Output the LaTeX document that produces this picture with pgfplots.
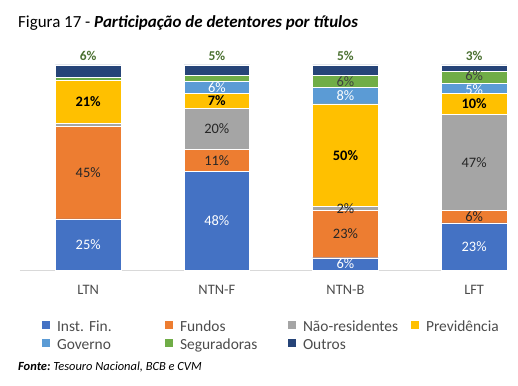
\documentclass[border=0pt]{standalone}
\usepackage{pgfplots}
\pgfplotsset{compat=1.18}
\usetikzlibrary{calc}
\usepackage{fontspec}
\setmainfont{Carlito}
\frenchspacing
\definecolor{cInst}{HTML}{4472C4}
\definecolor{cFund}{HTML}{ED7D31}
\definecolor{cNaoR}{HTML}{A5A5A5}
\definecolor{cPrev}{HTML}{FFC000}
\definecolor{cGov}{HTML}{5B9BD5}
\definecolor{cSeg}{HTML}{70AD47}
\definecolor{cOut}{HTML}{264478}
\definecolor{cTop}{HTML}{4A7030}
\definecolor{cTxt}{HTML}{262626}
\definecolor{cGray}{HTML}{404040}
\definecolor{cAx}{HTML}{D9D9D9}
\pgfplotsset{
  base/.style={scale only axis, width=485bp, height=205bp,
    xmin=-0.53, xmax=3.24, ymin=0, ymax=100, clip=false},
  lbl/.style={only marks, mark=none, nodes near coords, point meta=explicit symbolic,
    every node near coord/.append style={anchor=center, inner sep=0pt, font=\fontsize{14.5}{16}\selectfont}},
}
\begin{document}
\begin{tikzpicture}
\begin{axis}[base,
  ybar stacked, bar width=0.51,
  axis y line=none, axis x line*=bottom,
  x axis line style={draw=cAx, line width=0.8bp, -},
  xtick={0,1,2,3}, xticklabels={LTN,NTN-F,NTN-B,LFT},
  xtick style={draw=none}, major tick length=0pt,
  xticklabel style={anchor=base, yshift=-24bp, inner sep=0pt, font=\fontsize{14.5}{16}\selectfont, text=black!70},
  legend columns=4,
  legend image code/.code={\path[#1, draw=none] (0bp,-1bp) rectangle (8bp,7bp);},
  legend style={at={(0.045,-0.25)}, anchor=north west, draw=none, fill=none, inner sep=0pt,
    font=\fontsize{15.5}{17}\selectfont, text=black!70, row sep=4bp,
    nodes={inner sep=0pt, text width=108bp, align=left, text height=10bp, text depth=3bp},
    /tikz/every odd column/.append style={column sep=7bp}},
]
\coordinate (O) at (rel axis cs:0,0);
\addplot[fill=cInst, draw=white, line width=0.4bp] coordinates {(0,25) (1,48) (2,6) (3,23)};
\addplot[fill=cFund, draw=white, line width=0.4bp] coordinates {(0,45) (1,11) (2,23) (3,6)};
\addplot[fill=cNaoR, draw=white, line width=0.4bp] coordinates {(0,1.5) (1,20) (2,2) (3,47)};
\addplot[fill=cPrev, draw=white, line width=0.4bp] coordinates {(0,21) (1,7) (2,50) (3,10)};
\addplot[fill=cGov, draw=white, line width=0.4bp] coordinates {(0,0) (1,6) (2,8) (3,5)};
\addplot[fill=cSeg, draw=white, line width=0.4bp] coordinates {(0,1.5) (1,3) (2,6) (3,6)};
\addplot[fill=cOut, draw=white, line width=0.4bp] coordinates {(0,6) (1,5) (2,5) (3,3)};
\legend{Inst. Fin., Fundos, Não-residentes, Previdência, Governo, Seguradoras, Outros}
\end{axis}
\begin{axis}[base, hide axis]
\addplot[lbl, nodes near coords style={text=white}] coordinates {
 (0,12.5)[25\%] (1,24)[48\%] (2,3)[6\%] (3,11.5)[23\%]
 (1,89)[6\%] (2,85)[8\%] (3,88)[5\%]};
\addplot[lbl, nodes near coords style={text=cTxt}] coordinates {
 (0,47.5)[45\%] (1,53.5)[11\%] (2,17.5)[23\%] (3,26)[6\%]
 (1,69)[20\%] (2,30)[2\%] (3,52.5)[47\%]};
\addplot[lbl, nodes near coords style={text=black, font=\fontsize{14.5}{16}\selectfont\bfseries}] coordinates {
 (0,82)[21\%] (1,82.5)[7\%] (2,56)[50\%] (3,81)[10\%]};
\addplot[lbl, nodes near coords style={text=cGray}] coordinates {
 (2,92)[6\%] (3,94.6)[6\%]};
\addplot[lbl, nodes near coords style={text=cTop, font=\fontsize{13.5}{15}\selectfont\bfseries}] coordinates {
 (0,104.5)[6\%] (1,104.5)[5\%] (2,104.5)[5\%] (3,104.5)[3\%]};
\end{axis}
\node[anchor=base west, inner sep=0pt, font=\fontsize{17}{20}\selectfont, text=black] at ($(O)+(-2bp,242bp)$)
  {Figura 17 - \textbf{\textit{Participação de detentores por títulos}}};
\node[anchor=base west, inner sep=0pt, font=\fontsize{12.5}{14}\selectfont\itshape, text=black] at ($(O)+(-2bp,-100bp)$)
  {\textbf{Fonte:} Tesouro Nacional, BCB e CVM};
\pgfresetboundingbox
\path[use as bounding box] ($(O)+(-20bp,-116bp)$) rectangle ($(O)+(498bp,270bp)$);
\end{tikzpicture}
\end{document}
